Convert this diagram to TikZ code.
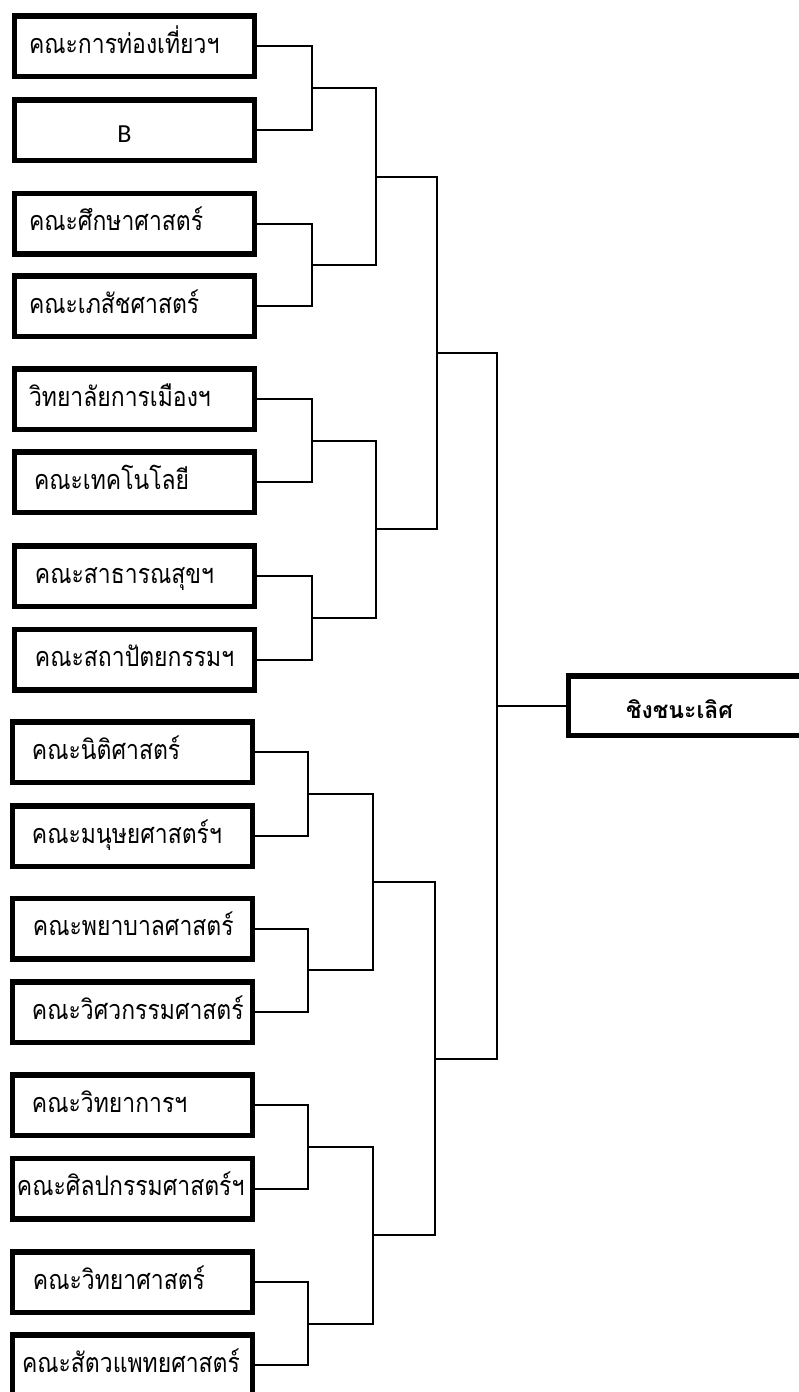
\documentclass[tikz,border=0pt]{standalone}
\usepackage{fontspec}
\newfontfamily\thai[Script=Thai,FakeStretch=0.85]{Loma}
\newfontfamily\thaib[Script=Thai]{Loma}
\newfontfamily\latinb{Carlito}
\begin{document}
\begin{tikzpicture}[x=1pt,y=-1pt,
  team/.style={draw, line width=5.5pt, minimum height=60.5pt, text width=240pt,
    inner xsep=0pt, inner ysep=0pt, align=left, anchor=west,
    text height=20pt, text depth=6pt,
    font=\thai\fontsize{27}{30}\selectfont},
  link/.style={line width=2pt}]
\useasboundingbox (0,0) rectangle (798,1392);
% top half (outer left 9)
\node[team] (b1)  at (11.75,46)    {\hspace*{14.5pt}คณะการท่องเที่ยวฯ};
\node[team,text height=24pt,text depth=0pt,font=\latinb\fontsize{26}{30}\selectfont] (b2) at (11.75,130) {\hspace*{103pt}B};
\node[team] (b3)  at (11.75,223.5) {\hspace*{14.5pt}คณะศึกษาศาสตร์};
\node[team] (b4)  at (11.75,306)   {\hspace*{14.5pt}คณะเภสัชศาสตร์};
\node[team] (b5)  at (11.75,399)   {\hspace*{14.5pt}วิทยาลัยการเมืองฯ};
\node[team] (b6)  at (11.75,482)   {\hspace*{19.5pt}คณะเทคโนโลยี};
\node[team] (b7)  at (11.75,576)   {\hspace*{20.5pt}คณะสาธารณสุขฯ};
\node[team] (b8)  at (11.75,659.5) {\hspace*{20.5pt}คณะสถาปัตยกรรมฯ};
% bottom half (outer left 7)
\node[team] (b9)  at (9.75,752)    {\hspace*{19.5pt}คณะนิติศาสตร์};
\node[team] (b10) at (9.75,836)    {\hspace*{19.5pt}คณะมนุษยศาสตร์ฯ};
\node[team] (b11) at (9.75,928.5)  {\hspace*{20.5pt}คณะพยาบาลศาสตร์};
\node[team] (b12) at (9.75,1012)   {\hspace*{19.5pt}คณะวิศวกรรมศาสตร์};
\node[team] (b13) at (9.75,1105)   {\hspace*{19.5pt}คณะวิทยาการฯ};
\node[team] (b14) at (9.75,1188.5) {\hspace*{4.5pt}คณะศิลปกรรมศาสตร์ฯ};
\node[team] (b15) at (9.75,1282)   {\hspace*{20.5pt}คณะวิทยาศาสตร์};
\node[team] (b16) at (9.75,1365)   {\hspace*{9.5pt}คณะสัตวแพทยศาสตร์};
% winner
\node[draw, line width=5.5pt, minimum height=59.5pt,
  inner sep=0pt, anchor=west, text width=250pt, align=left,
  text height=25pt, text depth=0pt,
  font=\thaib\bfseries\fontsize{23}{26}\selectfont] (win) at (565.75,705.5)
  {\hspace*{57.5pt}ชิงชนะเลิศ};
% junctions
\coordinate (a1) at (312,88);
\coordinate (a2) at (312,265);
\coordinate (a3) at (312,440.5);
\coordinate (a4) at (312,618);
\coordinate (a5) at (308,794);
\coordinate (a6) at (308,970);
\coordinate (a7) at (308,1147);
\coordinate (a8) at (308,1323.5);
\coordinate (c1) at (376,176.5);
\coordinate (c2) at (376,529);
\coordinate (c3) at (373,882);
\coordinate (c4) at (373,1235);
\coordinate (d1) at (437,353);
\coordinate (d2) at (435,1058.5);
\coordinate (e1) at (497,705.5);
% round 1
\draw[link] (b1.east) -| (a1) |- (b2.east);
\draw[link] (b3.east) -| (a2) |- (b4.east);
\draw[link] (b5.east) -| (a3) |- (b6.east);
\draw[link] (b7.east) -| (a4) |- (b8.east);
\draw[link] (b9.east) -| (a5) |- (b10.east);
\draw[link] (b11.east) -| (a6) |- (b12.east);
\draw[link] (b13.east) -| (a7) |- (b14.east);
\draw[link] (b15.east) -| (a8) |- (b16.east);
% round 2
\draw[link] (a1) -| (c1) |- (a2);
\draw[link] (a3) -| (c2) |- (a4);
\draw[link] (a5) -| (c3) |- (a6);
\draw[link] (a7) -| (c4) |- (a8);
% round 3
\draw[link] (c1) -| (d1) |- (c2);
\draw[link] (c3) -| (d2) |- (c4);
% final
\draw[link] (d1) -| (e1) |- (d2);
\draw[link] (e1) -- (win.west);
\end{tikzpicture}
\end{document}
